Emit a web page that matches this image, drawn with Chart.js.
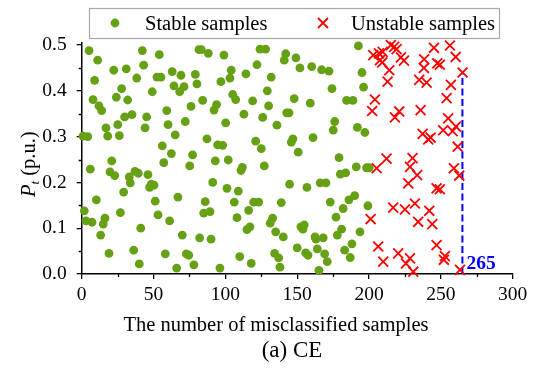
<!DOCTYPE html>
<html><head><meta charset="utf-8">
<script src="https://cdn.jsdelivr.net/npm/chart.js@4.4.1/dist/chart.umd.min.js"></script>
<style>html,body{margin:0;padding:0;background:#fff}canvas{display:block}</style>
</head><body>
<canvas id="c" width="550" height="368" style="width:550px;height:368px"></canvas>
<script>
const seriesLabels = ['Stable samples', 'Unstable samples'];
const stableX = [5.1,11.1,42.2,54.0,81.6,83.2,88.1,43.1,22.3,31.0,9.0,38.3,52.4,55.2,63.0,69.1,79.1,96.9,27.8,64.2,71.2,80.2,49.1,68.2,7.9,24.1,32.0,12.0,13.9,84.2,76.1,93.9,92.1,59.2,29.9,35.0,45.2,72.1,25.1,60.1,16.9,44.1,0.9,4.2,18.1,26.2,65.1,87.2,94.6,56.1,62.4,77.2,20.9,93.0,
99.0,124.1,128.0,142.0,141.0,149.1,192.6,104.1,103.2,114.3,122.0,131.9,151.9,160.1,167.0,172.1,195.1,174.2,196.2,129.2,105.1,107.2,119.0,147.9,159.1,184.4,188.8,130.1,112.9,126.0,142.7,144.3,100.2,135.9,176.1,175.1,191.9,197.1,161.0,121.1,98.1,147.0,145.9,125.0,150.7,102.0,179.1,191.1,198.3,200.1,180.0,183.7,
6.0,19.7,23.0,33.1,33.8,37.1,39.4,46.1,57.1,75.2,91.2,29.2,47.3,48.4,50.3,10.2,1.8,51.2,67.0,86.0,84.9,89.3,26.9,53.1,3.0,7.2,16.2,15.0,61.2,41.1,13.2,70.0,82.1,90.0,36.2,19.0,58.2,72.8,74.5,40.1,78.1,66.1,96.2,
111.8,110.9,127.1,144.7,156.8,166.0,170.0,101.1,109.0,106.2,119.7,123.2,138.9,116.2,108.1,132.9,131.2,115.0,117.1,135.0,140.3,152.6,154.9,154.0,173.0,186.0,190.0,182.0,177.0,180.9,177.9,193.7,162.4,163.1,168.1,188.1,183.0,186.9,150.0,155.9,157.5,164.0,169.1,170.9,134.3,137.1,110.0,118.0,138.0,165.1,199.2];
const stableY = [0.488,0.467,0.488,0.479,0.490,0.490,0.482,0.456,0.445,0.448,0.423,0.428,0.430,0.430,0.442,0.434,0.436,0.420,0.405,0.411,0.409,0.415,0.398,0.398,0.381,0.386,0.380,0.367,0.357,0.379,0.366,0.370,0.358,0.357,0.343,0.348,0.343,0.333,0.326,0.326,0.319,0.319,0.301,0.300,0.301,0.302,0.304,0.295,0.282,0.280,0.263,0.260,0.247,0.247,
0.478,0.491,0.491,0.481,0.467,0.472,0.498,0.445,0.428,0.437,0.457,0.430,0.450,0.453,0.446,0.443,0.440,0.405,0.408,0.400,0.392,0.381,0.378,0.383,0.373,0.379,0.379,0.367,0.349,0.342,0.352,0.352,0.330,0.325,0.333,0.314,0.320,0.309,0.298,0.290,0.281,0.295,0.288,0.274,0.266,0.249,0.254,0.234,0.232,0.232,0.218,0.221,
0.229,0.223,0.215,0.212,0.199,0.224,0.220,0.217,0.243,0.236,0.200,0.179,0.189,0.196,0.194,0.162,0.138,0.159,0.168,0.158,0.133,0.136,0.134,0.129,0.116,0.113,0.122,0.109,0.116,0.100,0.085,0.085,0.079,0.076,0.052,0.045,0.044,0.044,0.041,0.022,0.020,0.013,0.013,
0.233,0.226,0.236,0.196,0.189,0.199,0.199,0.187,0.181,0.157,0.157,0.157,0.156,0.139,0.123,0.122,0.111,0.097,0.103,0.092,0.081,0.103,0.107,0.098,0.157,0.162,0.171,0.143,0.124,0.098,0.085,0.092,0.081,0.076,0.079,0.066,0.052,0.036,0.057,0.046,0.041,0.055,0.044,0.027,0.045,0.035,0.038,0.023,0.015,0.008,0.149];
const unstableX = [202.9,206.9,209.5,207.6,209.2,215.2,217.5,219.2,222.2,224.3,214.1,212.9,204.1,202.2,221.0,218.0,235.9,234.9,240.1,238.4,238.2,245.2,247.5,249.3,256.3,260.3,265.1,257.0,254.0,255.1,260.5,258.2,251.6,237.3,241.2,242.9,261.7,212.2,205.3,230.3,228.5,233.5,227.3,259.1,262.8,247.0,249.3,216.8,225.0,231.9,241.9,234.2,244.0,201.1,206.4,209.9,220.3,228.5,225.7,230.8,247.0,252.8,252.1,263.3];
const unstableY = [0.478,0.482,0.485,0.467,0.462,0.500,0.496,0.491,0.473,0.466,0.445,0.420,0.381,0.356,0.355,0.342,0.358,0.424,0.418,0.469,0.450,0.494,0.460,0.457,0.499,0.474,0.440,0.413,0.384,0.340,0.322,0.312,0.314,0.306,0.294,0.298,0.278,0.252,0.231,0.253,0.234,0.216,0.198,0.231,0.215,0.187,0.185,0.145,0.141,0.154,0.138,0.114,0.109,0.120,0.060,0.027,0.045,0.034,0.023,0.005,0.063,0.039,0.031,0.009];
const xTicks = [0, 50, 100, 150, 200, 250, 300];
const yTicks = [0, 0.1, 0.2, 0.3, 0.4, 0.5];
const xMinorTicks = [25, 75, 125, 175, 225, 275];
const yMinorTicks = [0.05, 0.15, 0.25, 0.35, 0.45];
const markX = 265;
const markTopY = 0.44;
const markLabel = '265';
const xTitle = 'The number of misclassified samples';
const caption = '(a) CE';
const yTitleMain = 'P', yTitleSub = 't', yTitleUnit = ' (p.u.)';

const GREEN = 'rgb(102,160,20)';
const RED = '#ff0000';
const BLUE = '#0000ff';
const FONT = "'Liberation Serif', 'Times New Roman', serif";

const zip = (xs, ys) => xs.map((x, i) => ({x: x, y: ys[i]}));

const decor = {
  id: 'decor',
  afterDraw(chart) {
    const ctx = chart.ctx;
    const xs = chart.scales.x, ys = chart.scales.y;
    const area = chart.chartArea;
    ctx.save();
    // minor ticks
    ctx.strokeStyle = '#000';
    ctx.lineWidth = 1.3;
    ctx.beginPath();
    xMinorTicks.forEach(v => {
      const px = Math.round(xs.getPixelForValue(v)) + 0.5;
      ctx.moveTo(px, area.bottom); ctx.lineTo(px, area.bottom + 3);
    });
    yMinorTicks.forEach(v => {
      const py = Math.round(ys.getPixelForValue(v)) + 0.5;
      ctx.moveTo(area.left, py); ctx.lineTo(area.left - 3, py);
    });
    ctx.stroke();

    // mark label
    ctx.fillStyle = BLUE;
    ctx.font = "bold 19.5px " + FONT;
    ctx.textAlign = 'left';
    ctx.textBaseline = 'alphabetic';
    ctx.fillText(markLabel, xs.getPixelForValue(markX) + 4, ys.getPixelForValue(0) - 5);

    // legend box
    ctx.fillStyle = '#fff';
    ctx.fillRect(89, 8, 410, 30);
    ctx.strokeStyle = '#a8a8a8';
    ctx.lineWidth = 1.2;
    ctx.strokeRect(89.5, 8.5, 410, 30);
    ctx.fillStyle = GREEN;
    ctx.beginPath(); ctx.arc(115, 23, 4.4, 0, Math.PI * 2); ctx.fill();
    ctx.strokeStyle = RED; ctx.lineWidth = 1.8;
    ctx.beginPath();
    ctx.moveTo(318, 18); ctx.lineTo(328, 28);
    ctx.moveTo(328, 18); ctx.lineTo(318, 28);
    ctx.stroke();
    ctx.fillStyle = '#000';
    ctx.font = "20.5px " + FONT;
    ctx.textAlign = 'left';
    ctx.fillText(seriesLabels[0], 145, 30);
    ctx.fillText(seriesLabels[1], 351, 30);

    // x title and caption
    ctx.textAlign = 'center';
    ctx.font = "20.5px " + FONT;
    ctx.fillText(xTitle, 276, 331);
    ctx.font = "23px " + FONT;
    ctx.fillText(caption, 292, 357);

    // y title (rotated)
    ctx.translate(35, 197);
    ctx.rotate(-Math.PI / 2);
    ctx.textAlign = 'left';
    ctx.font = "italic 20.5px " + FONT;
    ctx.fillText(yTitleMain, 0, 0);
    let w = ctx.measureText(yTitleMain).width;
    ctx.font = "italic 13px " + FONT;
    ctx.fillText(yTitleSub, w, 4);
    w += ctx.measureText(yTitleSub).width;
    ctx.font = "20.5px " + FONT;
    ctx.fillText(yTitleUnit, w, 0);
    ctx.restore();
  }
};

new Chart(document.getElementById('c'), {
  type: 'scatter',
  data: {
    datasets: [
      {
        label: seriesLabels[0],
        data: zip(stableX, stableY),
        pointStyle: 'circle',
        pointRadius: 4.4,
        pointHoverRadius: 4.4,
        backgroundColor: GREEN,
        borderColor: GREEN,
        borderWidth: 0,
        clip: false,
        order: 2
      },
      {
        label: seriesLabels[1],
        data: zip(unstableX, unstableY),
        pointStyle: 'crossRot',
        pointRadius: 7,
        pointHoverRadius: 7,
        borderColor: RED,
        backgroundColor: RED,
        borderWidth: 1.8,
        clip: false,
        order: 1
      },
      {
        type: 'line',
        label: 'mark',
        data: [{x: markX, y: 0}, {x: markX, y: markTopY}],
        borderColor: BLUE,
        borderWidth: 2,
        borderDash: [7, 3.5],
        pointRadius: 0,
        showLine: true,
        clip: false,
        order: 3
      }
    ]
  },
  options: {
    responsive: false,
    animation: false,
    devicePixelRatio: 1,
    layout: {padding: {left: 0, right: 37.3, top: 42.3, bottom: 0}},
    plugins: {legend: {display: false}, tooltip: {enabled: false}, title: {display: false}},
    events: [],
    scales: {
      x: {
        type: 'linear', min: 0, max: 300,
        afterBuildTicks: s => { s.ticks = xTicks.map(v => ({value: v})); },
        afterFit: s => { s.height = 94; },
        grid: {drawOnChartArea: false, drawTicks: true, tickLength: 5, color: '#000', lineWidth: 1.3},
        border: {display: true, color: '#000', width: 1.5},
        ticks: {color: '#000', font: {family: FONT, size: 19.5}, padding: 4, maxRotation: 0,
                callback: v => String(v)}
      },
      y: {
        type: 'linear', min: 0, max: 0.506,
        afterBuildTicks: s => { s.ticks = yTicks.map(v => ({value: v})); },
        afterFit: s => { s.width = 81.7; },
        grid: {drawOnChartArea: false, drawTicks: true, tickLength: 5, color: '#000', lineWidth: 1.3},
        border: {display: true, color: '#000', width: 1.5},
        ticks: {color: '#000', font: {family: FONT, size: 19.5}, padding: 10,
                callback: v => Number(v).toFixed(1)}
      }
    }
  },
  plugins: [decor]
});
</script>
</body></html>
